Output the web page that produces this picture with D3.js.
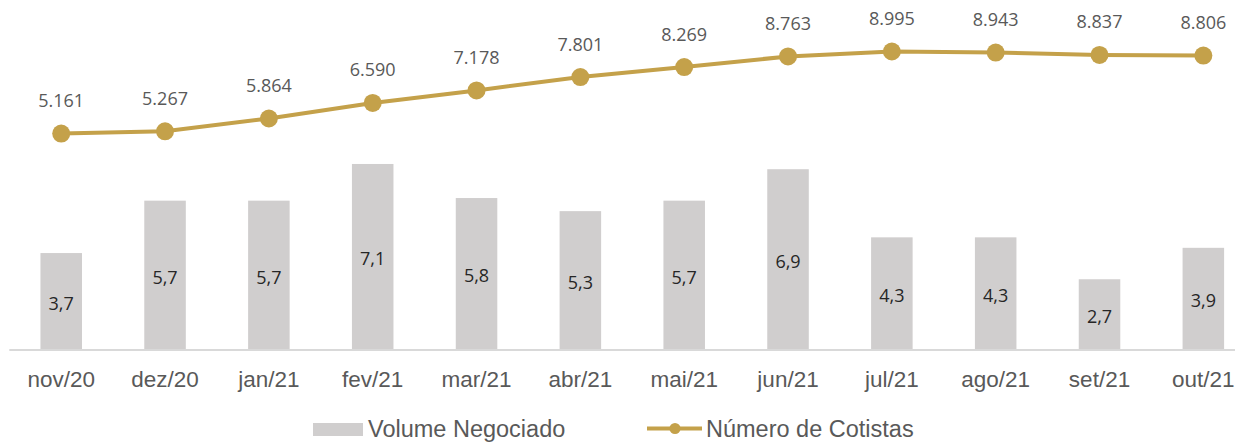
<!DOCTYPE html>
<html>
<head>
<meta charset="utf-8">
<script src="https://cdn.jsdelivr.net/npm/d3@7"></script>
<style>
  body { margin: 0; background: #fff; }
  svg { display: block; }
</style>
</head>
<body>
<script>
var months = ["nov/20", "dez/20", "jan/21", "fev/21", "mar/21", "abr/21", "mai/21", "jun/21", "jul/21", "ago/21", "set/21", "out/21"];
var volume = [3.7, 5.7, 5.7, 7.1, 5.8, 5.3, 5.7, 6.9, 4.3, 4.3, 2.7, 3.9];
var cotistas = [5161, 5267, 5864, 6590, 7178, 7801, 8269, 8763, 8995, 8943, 8837, 8806];

var width = 1235, height = 442,
  baseY = 350;
var gold = "#c4a14a", barGray = "#d0cece", textGray = "#595959";

var svg = d3.select("body").append("svg")
  .attr("width", width)
  .attr("height", height);

var x = d3.scaleBand()
  .domain(months)
  .range([9.3, 9.3 + 12 * 103.83])
  .paddingInner(0.6)
  .paddingOuter(0.3);
var yBar = d3.scaleLinear().domain([0, 12]).range([baseY, 35.6]);
var yLine = d3.scaleLinear().domain([-5000, 10000]).range([351, 30]);

var fmtVol = function (v) { return d3.format(".1f")(v).replace(".", ","); };
var fmtCot = function (v) { return d3.format(",")(v).replace(/,/g, "."); };

// bars
svg.append("g").selectAll("rect")
  .data(volume)
  .enter().append("rect")
  .attr("x", function (d, i) { return x(months[i]); })
  .attr("y", function (d) { return yBar(d); })
  .attr("width", x.bandwidth())
  .attr("height", function (d) { return baseY - yBar(d); })
  .attr("fill", barGray);

svg.append("g").selectAll("text")
  .data(volume)
  .enter().append("text")
  .attr("x", function (d, i) { return x(months[i]) + x.bandwidth() / 2; })
  .attr("y", function (d) { return (yBar(d) + baseY) / 2 + 8.3; })
  .attr("text-anchor", "middle")
  .style("font-family", "'Open Sans', sans-serif")
  .style("font-size", "18px")
  .attr("fill", "#262626")
  .text(fmtVol);

// x axis
var xAxis = d3.axisBottom(x).tickSize(0).tickPadding(0);
var gx = svg.append("g")
  .attr("transform", "translate(0," + baseY + ")")
  .call(xAxis);
gx.select(".domain").remove();
gx.append("line")
  .attr("x1", 9.3).attr("x2", width)
  .attr("stroke", "#d9d9d9")
  .attr("stroke-width", 2);
gx.selectAll(".tick text")
  .attr("y", 37)
  .attr("dy", null)
  .attr("fill", textGray)
  .style("font-family", "'Liberation Sans', Arial, sans-serif")
  .style("font-size", "22.5px");

// line
var cx = function (d, i) { return x(months[i]) + x.bandwidth() / 2; };
var line = d3.line()
  .x(cx)
  .y(function (d) { return yLine(d); });

svg.append("path")
  .datum(cotistas)
  .attr("d", line)
  .attr("fill", "none")
  .attr("stroke", gold)
  .attr("stroke-width", 4);

svg.append("g").selectAll("circle")
  .data(cotistas)
  .enter().append("circle")
  .attr("cx", cx)
  .attr("cy", function (d) { return yLine(d); })
  .attr("r", 9)
  .attr("fill", gold);

svg.append("g").selectAll("text")
  .data(cotistas)
  .enter().append("text")
  .attr("x", cx)
  .attr("y", function (d) { return yLine(d) - 26.5; })
  .attr("text-anchor", "middle")
  .style("font-family", "'Open Sans', sans-serif")
  .style("font-size", "18px")
  .attr("fill", textGray)
  .text(fmtCot);

// legend
var legend = svg.append("g")
  .style("font-family", "'Liberation Sans', Arial, sans-serif")
  .style("font-size", "23.5px")
  .attr("fill", textGray);
legend.append("rect")
  .attr("x", 313).attr("y", 423)
  .attr("width", 50).attr("height", 13)
  .attr("fill", barGray);
legend.append("text")
  .attr("x", 368).attr("y", 437)
  .text("Volume Negociado");
legend.append("line")
  .attr("x1", 647).attr("x2", 702)
  .attr("y1", 428.5).attr("y2", 428.5)
  .attr("stroke", gold)
  .attr("stroke-width", 4);
legend.append("circle")
  .attr("cx", 675).attr("cy", 428.5)
  .attr("r", 5.5)
  .attr("fill", gold);
legend.append("text")
  .attr("x", 706).attr("y", 437)
  .text("Número de Cotistas");
</script>
</body>
</html>
